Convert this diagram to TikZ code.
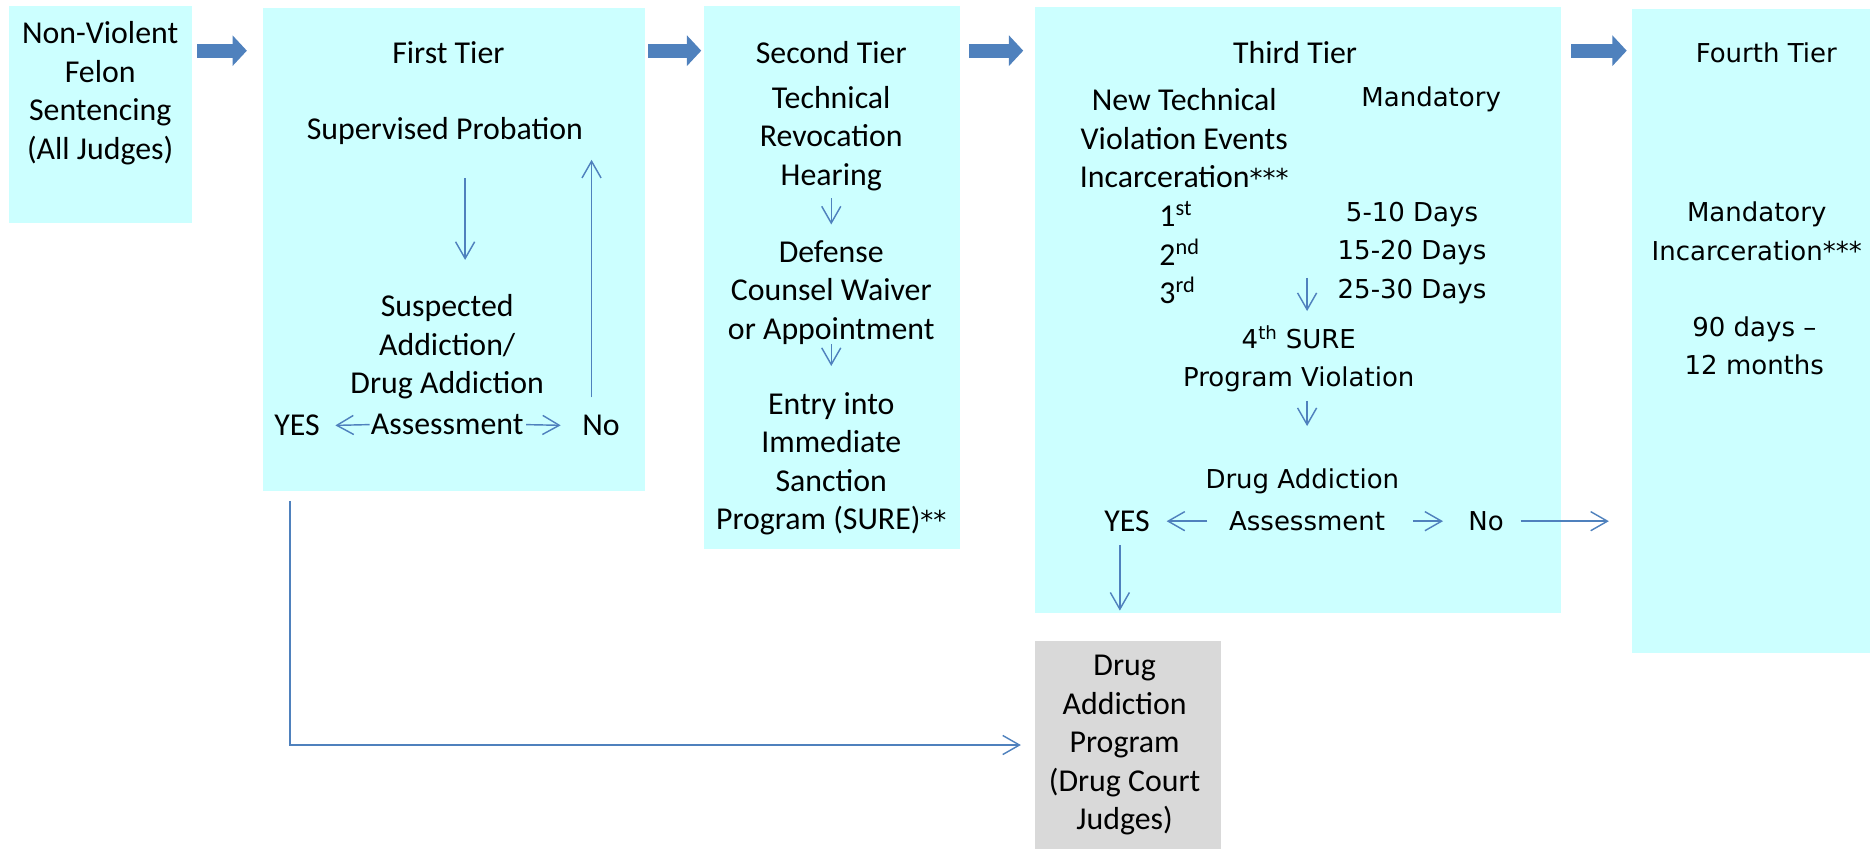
\documentclass[tikz,border=0pt]{standalone}
\usepackage{fontspec}
\usepackage{tikz}
\usetikzlibrary{positioning, arrows.meta}
\usepackage{xcolor}
\newfontfamily\calibri{Carlito}
\newfontfamily\verdana{DejaVu Sans}
\definecolor{tierfill}{RGB}{204,255,255}
\definecolor{progfill}{RGB}{217,217,217}
\definecolor{linkblue}{RGB}{79,129,189}

\begin{document}
\begin{tikzpicture}[x=1pt, y=1pt]
        % Styles
        \tikzstyle{tier} = [rectangle, anchor=north west, fill=tierfill, inner sep=0pt]
        \tikzstyle{program} = [rectangle, anchor=north west, fill=progfill, inner sep=0pt]
        \tikzstyle{txt} = [font=\calibri\fontsize{26.7}{32.3}\selectfont, align=center, inner sep=0pt]
        \tikzstyle{vtxt} = [font=\verdana\fontsize{21.8}{32.3}\selectfont, align=center, inner sep=0pt]
        \tikzstyle{bigarrow} = [line width=12pt, linkblue, -{Triangle[length=12pt, width=25pt]}]
        \tikzstyle{link} = [line width=1.2pt, linkblue, -{Straight Barb[length=14pt, width=16pt]}]

        \useasboundingbox (0,0) rectangle (1568,-712);

        % Boxes
        \node (nv) [tier, minimum width=154, minimum height=182] at (7,-5) {};
        \node (tier1) [tier, minimum width=321, minimum height=405] at (220,-6.5) {};
        \node (tier2) [tier, minimum width=215, minimum height=455] at (590,-5) {};
        \node (tier3) [tier, minimum width=441, minimum height=508] at (868,-6) {};
        \node (tier4) [tier, minimum width=200, minimum height=540] at (1368,-7) {};
        \node (drugprog) [program, minimum width=156, minimum height=175] at (868,-537) {};

        % Texts
        \node (nvtext) [txt] at (84,-78) {Non-Violent\\Felon\\Sentencing\\(All Judges)};

        \node (t1title) [txt] at (376,-44) {First Tier};
        \node (prob) [txt] at (373,-110) {Supervised Probation};
        \node (susp) [txt] at (375,-291) {Suspected\\Addiction/\\Drug Addiction};
        \node (t1assess) [txt] at (375,-356) {Assessment};
        \node (t1yes) [txt] at (249,-357) {YES};
        \node (t1no) [txt] at (504,-357) {No};

        \node (t2title) [txt] at (697,-44) {Second Tier};
        \node (t2hear) [txt] at (697,-116) {Technical\\Revocation\\Hearing};
        \node (t2counsel) [txt] at (697,-245) {Defense\\Counsel Waiver\\or Appointment};
        \node (t2entry) [txt] at (697,-389) {Entry into\\Immediate\\Sanction\\Program (SURE){\verdana\fontsize{21.8}{32.3}\selectfont **}};

        \node (t3title) [txt] at (1086,-44) {Third Tier};
        \node (t3events) [txt] at (993,-116) {New Technical\\Violation Events\\Incarceration{\verdana\fontsize{21.8}{32.3}\selectfont ***}};
        \node (t3mand) [vtxt] at (1200,-83) {Mandatory};
        \node (t3order) [txt, align=left, anchor=west] at (972,-212) {1\textsuperscript{st}\\2\textsuperscript{nd}\\3\textsuperscript{rd}};
        \node (t3days) [vtxt] at (1184,-212) {5-10 Days\\15-20 Days\\25-30 Days};
        \node (t3sure) [vtxt] at (1089,-301) {4\textsuperscript{th} SURE\\Program Violation};
        \node (t3drug) [vtxt] at (1092,-404) {Drug Addiction};
        \node (t3assess) [vtxt] at (1096,-437) {Assessment};
        \node (t3yes) [txt] at (945,-437) {YES};
        \node (t3no) [vtxt] at (1246,-437) {No};

        \node (t4title) [vtxt] at (1481,-44) {Fourth Tier};
        \node (t4mand) [vtxt] at (1473,-194) {Mandatory\\Incarceration***};
        \node (t4term) [vtxt] at (1471,-290) {90 days –\\12 months};

        \node (dptext) [txt] at (943,-625) {Drug\\Addiction\\Program\\(Drug Court\\Judges)};

        % Paths
        \coordinate (toprow) at (0,-42.5);
        \draw [bigarrow, shorten <=4pt, shorten >=13pt] (nv.east |- toprow) -- (tier1.west |- toprow);
        \draw [bigarrow, shorten <=2pt, shorten >=2pt] (tier1.east |- toprow) -- (tier2.west |- toprow);
        \draw [bigarrow, shorten <=7pt, shorten >=10pt] (tier2.east |- toprow) -- (tier3.west |- toprow);
        \draw [bigarrow, shorten <=8pt, shorten >=4pt] (tier3.east |- toprow) -- (tier4.west |- toprow);

        \draw [link, shorten <=28pt, shorten >=29pt] ([xshift=17pt]prob.south) -- ([xshift=17pt]prob.south |- susp.north);
        \draw [link, shorten <=1pt, shorten >=13pt] (t1assess.west) -- (t1yes.east);
        \draw [link, shorten <=2pt, shorten >=18pt] (t1assess.east) -- (t1no.west);
        \coordinate (t1up) at (496,-134);
        \draw [link, shorten <=15pt] (t1no.north -| t1up) -- (t1up);
        \coordinate (t1drop) at (243,-420);
        \draw [link, shorten >=12pt] (t1drop) |- (drugprog.west);

        \draw [link, shorten <=6pt, shorten >=13pt] (t2hear.south) -- (t2counsel.north);
        \draw [link, shorten >=22pt] (t2counsel.south) -- (t2entry.north);

        \coordinate (t3gap) at (1096,-233);
        \draw [link, shorten >=12pt] (t3gap) -- (t3gap |- t3sure.north);
        \draw [link, shorten <=7pt, shorten >=36pt] (t3sure.south -| t3gap) -- (t3drug.north -| t3gap);
        \draw [link, shorten <=18pt, shorten >=14pt] (t3assess.west) -- (t3yes.east);
        \draw [link, shorten <=23pt, shorten >=21pt] (t3assess.east) -- (t3no.west);
        \draw [link, shorten <=14pt, shorten >=19pt] (t3no.east) -- (t3no.east -| tier4.west);
        \draw [link, shorten <=11pt, shorten >=25pt] ([xshift=-6pt]t3yes.south) -- ([xshift=-6pt]t3yes.south |- drugprog.north);

\end{tikzpicture}
\end{document}
